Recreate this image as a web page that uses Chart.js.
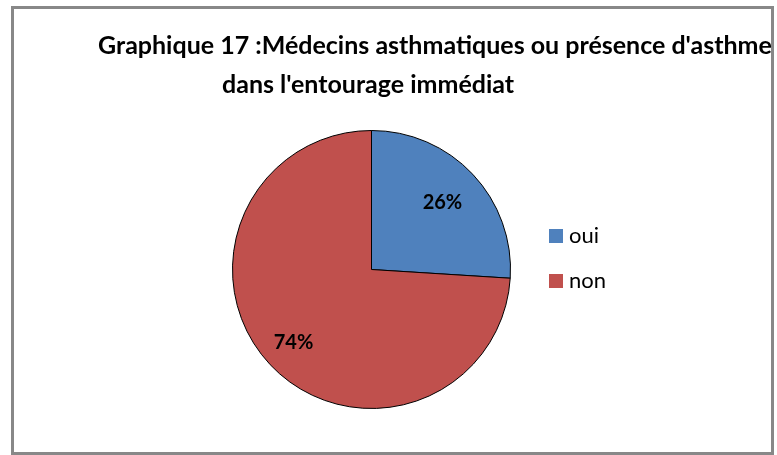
<!DOCTYPE html>
<html>
<head>
<meta charset="utf-8">
<script src="https://cdn.jsdelivr.net/npm/chart.js@4.4.0/dist/chart.umd.min.js"></script>
<style>
html,body{margin:0;padding:0;background:#fff;}
#wrap{width:777px;height:455px;position:relative;}
</style>
</head>
<body>
<div id="wrap"><canvas id="c" width="777" height="455"></canvas></div>
<script>
const titleLines = ["Graphique 17 :Médecins asthmatiques ou présence d'asthme", "dans l'entourage immédiat"];
const categories = ["oui", "non"];
const values = [26, 74];
const colors = ["#4F81BD", "#C0504D"];

const FONT = "Lato, 'Open Sans', sans-serif";

const frame = {
  id: 'frame',
  beforeDraw(chart) {
    const ctx = chart.ctx;
    ctx.save();
    ctx.fillStyle = '#fff';
    ctx.fillRect(0, 0, chart.width, chart.height);
    ctx.strokeStyle = '#888888';
    ctx.lineWidth = 3;
    ctx.strokeRect(12.5, 7.5, 760, 446);
    ctx.restore();
  },
  afterDraw(chart) {
    const ctx = chart.ctx;
    ctx.save();
    // title
    ctx.fillStyle = '#000';
    ctx.font = "bold 25px " + FONT;
    ctx.textBaseline = 'middle';
    ctx.textAlign = 'left';
    ctx.fillText(titleLines[0], 98, 46);
    ctx.fillText(titleLines[1], 222, 85);
    // percentage labels
    const meta = chart.getDatasetMeta(0);
    const total = values.reduce((a, b) => a + b, 0);
    const frac = [0.70, 0.77];
    ctx.font = "bold 20px " + FONT;
    ctx.textAlign = 'center';
    meta.data.forEach((arc, i) => {
      const p = arc.getProps(['x', 'y', 'startAngle', 'endAngle', 'outerRadius'], true);
      const mid = (p.startAngle + p.endAngle) / 2;
      const r = p.outerRadius * frac[i];
      const pct = Math.round(values[i] / total * 100) + '%';
      ctx.fillText(pct, p.x + Math.cos(mid) * r, p.y + Math.sin(mid) * r);
    });
    // legend
    ctx.font = "22px " + FONT;
    ctx.textAlign = 'left';
    categories.forEach((c, i) => {
      const y = 236 + i * 45;
      ctx.fillStyle = colors[i];
      ctx.fillRect(549, y - 7, 14, 14);
      ctx.fillStyle = '#000';
      ctx.fillText(c, 569, y);
    });
    ctx.restore();
  }
};

new Chart(document.getElementById('c'), {
  type: 'pie',
  data: {
    labels: categories,
    datasets: [{
      data: values,
      backgroundColor: colors,
      borderColor: '#000',
      borderWidth: 1
    }]
  },
  options: {
    responsive: false,
    animation: false,
    layout: { padding: { left: 232, right: 266, top: 130, bottom: 46 } },
    plugins: {
      legend: { display: false },
      title: { display: false },
      tooltip: { enabled: false }
    }
  },
  plugins: [frame]
});
</script>
</body>
</html>
